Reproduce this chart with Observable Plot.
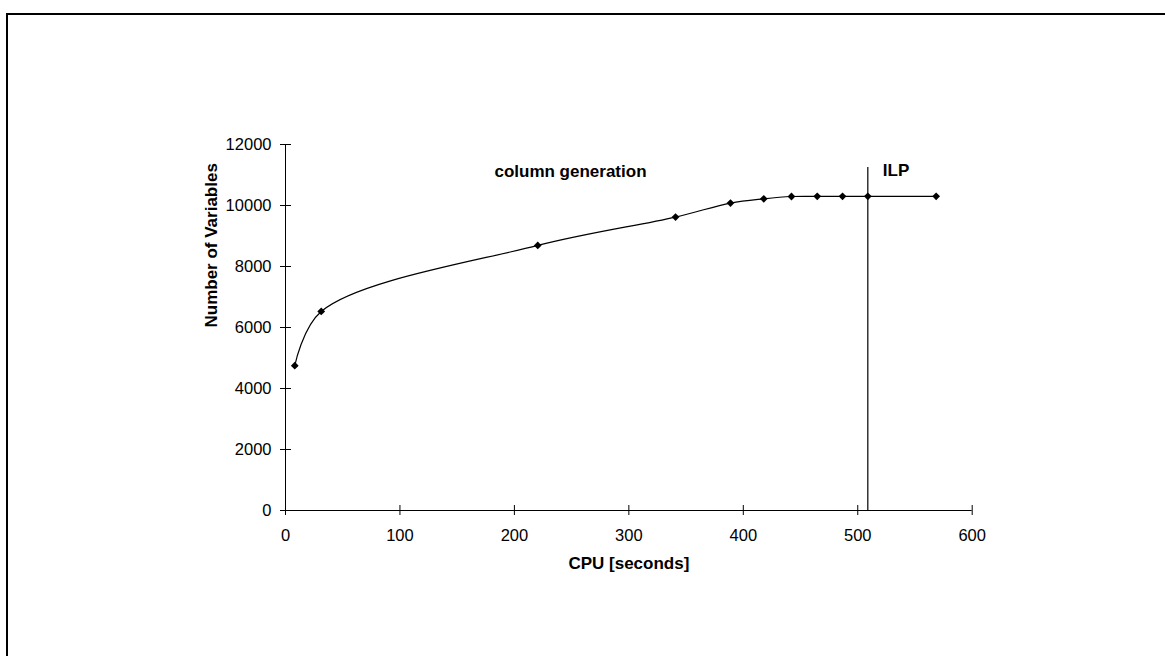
<!DOCTYPE html>
<html>
<head>
<meta charset="utf-8">
<script src="https://cdn.jsdelivr.net/npm/d3@7"></script>
<script src="https://cdn.jsdelivr.net/npm/@observablehq/plot@0.6"></script>
<style>
  html, body { margin: 0; padding: 0; background: #fff; overflow: hidden; }
  #wrap { position: relative; width: 1165px; height: 656px; overflow: hidden; background: #fff; }
  #frame { position: absolute; left: 6px; top: 13px; right: -10px; bottom: -10px;
           border-top: 2.5px solid #000; border-left: 2.5px solid #000; pointer-events: none; }
  #chart { position: absolute; left: 0; top: 0; }
</style>
</head>
<body>
<div id="wrap"><div id="chart"></div><div id="frame"></div></div>
<script>
// CPU time (seconds) of each column-generation iteration
const cpu = [8.1, 31.2, 220.4, 340.8, 388.8, 417.9, 442.1, 464.6, 486.7, 508.8, 568.5];
// number of variables at each iteration
const numVars = [4750, 6525, 8690, 9620, 10080, 10220, 10295, 10300, 10300, 10300, 10300];
// tick values
const xTicks = [0, 100, 200, 300, 400, 500, 600];
const yTicks = [0, 2000, 4000, 6000, 8000, 10000, 12000];
// phase separator (start of ILP) and its top
const ilpStart = [508.8];
const ilpTop = [11250];
// annotations (centre positions)
const annoText = ["column generation", "ILP"];
const annoX = [249, 533.5];
const annoY = [11120, 11160];

const data = cpu.map((c, i) => ({cpu: c, vars: numVars[i]}));
const annos = annoText.map((t, i) => ({text: t, x: annoX[i], y: annoY[i]}));

const font = "Arial, 'Liberation Sans', Helvetica, sans-serif";

const plot = Plot.plot({
  width: 1165,
  height: 656,
  marginLeft: 285,
  marginRight: 193.3,
  marginTop: 144,
  marginBottom: 146,
  style: {fontFamily: font, fontSize: "16.5px", background: "transparent", color: "#000"},
  x: {domain: [0, 600]},
  y: {domain: [0, 12000]},
  marks: [
    // axis lines
    Plot.ruleX([0], {stroke: "#000", strokeWidth: 1}),
    Plot.ruleY([0], {stroke: "#000", strokeWidth: 1}),
    // cross tick marks
    Plot.ruleY(yTicks, {y: d => d, x1: 0, x2: 0, insetLeft: -5, insetRight: -6, stroke: "#000", strokeWidth: 1}),
    Plot.ruleX(xTicks, {x: d => d, y1: 0, y2: 0, insetTop: -5, insetBottom: -5, stroke: "#000", strokeWidth: 1}),
    // tick labels
    Plot.axisY({ticks: yTicks, tickSize: 0, tickPadding: 14, label: null, tickFormat: d => String(d), fontSize: "16.5px"}),
    Plot.axisX({ticks: xTicks, tickSize: 0, tickPadding: 19, label: null, tickFormat: d => String(d), fontSize: "16.5px"}),
    // axis titles
    Plot.text(["CPU [seconds]"], {frameAnchor: "bottom", dy: 53, fontWeight: "bold", fontSize: 17, lineAnchor: "middle"}),
    Plot.text(["Number of Variables"], {frameAnchor: "left", dx: -74, rotate: -90, fontWeight: "bold", fontSize: 17, lineAnchor: "middle"}),
    // ILP separator
    Plot.ruleX(ilpStart, {x: d => d, y1: 0, y2: ilpTop[0], stroke: "#000", strokeWidth: 1.2}),
    // series
    Plot.line(data, {x: "cpu", y: "vars", curve: "catmull-rom", stroke: "#000", strokeWidth: 1.2}),
    Plot.dot(data, {x: "cpu", y: "vars", symbol: "diamond2", r: 3.5, fill: "#000", stroke: "none"}),
    // annotations
    Plot.text(annos, {x: "x", y: "y", text: "text", textAnchor: "middle", fontWeight: "bold", fontSize: 17, lineAnchor: "middle"})
  ]
});
document.getElementById("chart").appendChild(plot);
</script>
</body>
</html>
